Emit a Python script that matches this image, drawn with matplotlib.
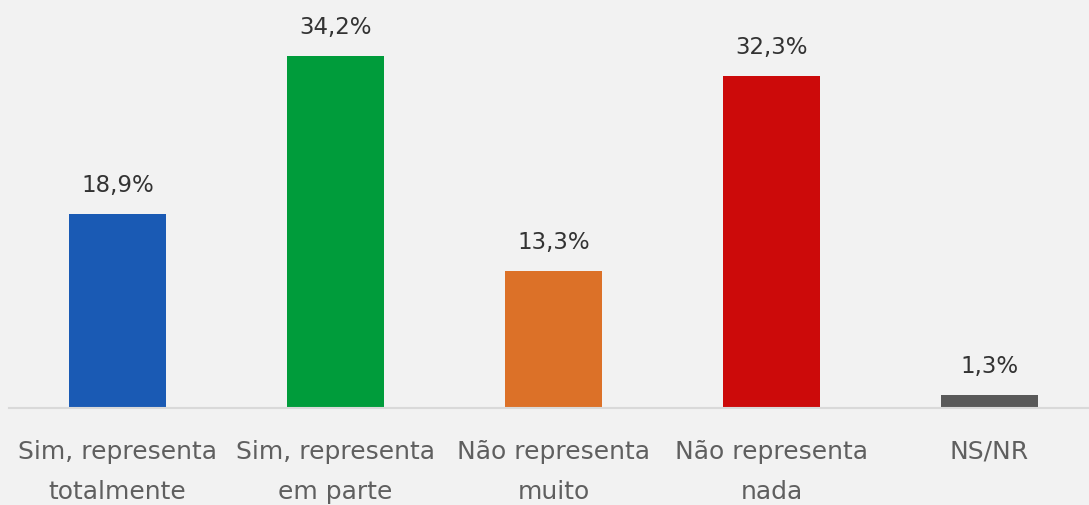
import matplotlib
matplotlib.use("Agg")
import matplotlib.pyplot as plt

categories = ["Sim, representa\ntotalmente", "Sim, representa\nem parte",
              "Não representa\nmuito", "Não representa\nnada", "NS/NR"]
values = [18.9, 34.2, 13.3, 32.3, 1.3]
labels = ["18,9%", "34,2%", "13,3%", "32,3%", "1,3%"]
colors = ["#1a5ab4", "#009c3b", "#dc7128", "#cc0a0a", "#595959"]

W, H = 1089, 505
fig = plt.figure(figsize=(W / 100, H / 100), dpi=100, facecolor="#f2f2f2")
left_px, base_px = 8.5, 408
ax = fig.add_axes([left_px / W, (H - base_px) / H, (W - left_px) / W, base_px / H])
ax.set_facecolor("#f2f2f2")
font = "DejaVu Sans"

x = list(range(len(values)))
ax.bar(x, values, width=0.445, color=colors)
for xi, v, lab in zip(x, values, labels):
    ax.annotate(lab, (xi, v), xytext=(0, 20.5), textcoords="offset points",
                ha="center", va="center", fontsize=16.5, color="#333333",
                family=font)

ax.set_xlim(-0.5, -0.5 + (W - left_px) / 218)
ax.set_ylim(0, base_px / 10.29)
for s in ["top", "right", "left"]:
    ax.spines[s].set_visible(False)
ax.spines["bottom"].set_color("#d9d9d9")
ax.spines["bottom"].set_linewidth(1.5)
ax.set_yticks([])
ax.set_xticks(x)
ax.set_xticklabels(categories, fontsize=18, color="#5f5f5f", family=font,
                   linespacing=1.85)
ax.tick_params(axis="x", length=0, pad=23)

fig.savefig("out.png", dpi=100, facecolor="#f2f2f2")
